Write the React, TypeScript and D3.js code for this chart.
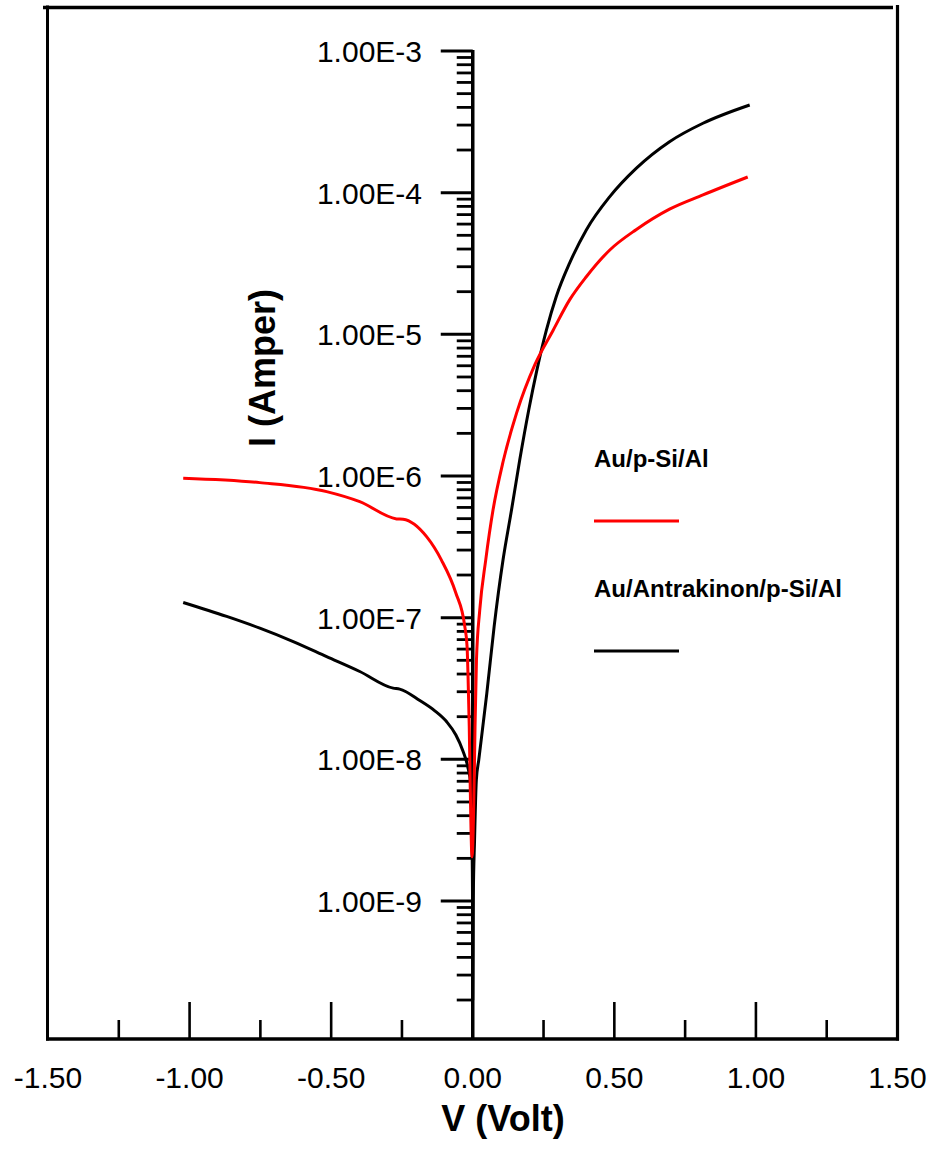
import React from "react";
import * as d3 from "d3";

// Au/p-Si/Al (red)
const redV = [-1.0225, -0.752, -0.516, -0.399, -0.269, -0.246, -0.163, -0.111, -0.060, -0.028, -0.020, -0.0166, -0.0124, -0.0095, -0.0025, 0.0053, 0.0081, 0.0131, 0.0247, 0.0459, 0.0717, 0.107, 0.155, 0.219, 0.284, 0.342, 0.401, 0.484, 0.578, 0.695, 0.813, 0.971];
const redI = [9.64e-7, 8.98e-7, 7.76e-7, 6.59e-7, 4.98e-7, 4.95e-7, 3.73e-7, 2.56e-7, 1.5e-7, 8.65e-8, 6.25e-8, 3.84e-8, 1.71e-8, 7.57e-9, 2.05e-9, 7.57e-9, 1.71e-8, 5.0e-8, 1.13e-7, 2.56e-7, 5.77e-7, 1.26e-6, 2.79e-6, 6.08e-6, 1.07e-5, 1.75e-5, 2.55e-5, 3.94e-5, 5.5e-5, 7.65e-5, 9.64e-5, 1.29e-4];

// Au/Antrakinon/p-Si/Al (black)
const blackV = [-1.0225, -0.869, -0.752, -0.634, -0.516, -0.399, -0.281, -0.258, -0.187, -0.134, -0.092, -0.060, -0.035, -0.0176, -0.0071, -0.0028, -0.0007, 0.0, 0.0018, 0.0064, 0.0127, 0.0212, 0.0498, 0.0755, 0.107, 0.137, 0.166, 0.1977, 0.2259, 0.26, 0.295, 0.342, 0.401, 0.484, 0.578, 0.695, 0.813, 0.978];
const blackI = [1.28e-7, 1.02e-7, 8.43e-8, 6.78e-8, 5.31e-8, 4.17e-8, 3.18e-8, 3.13e-8, 2.6e-8, 2.2e-8, 1.84e-8, 1.49e-8, 1.15e-8, 8.85e-9, 6.6e-9, 2.7e-9, 1.0e-9, 2.0e-10, 1.0e-9, 2.7e-9, 7.16e-9, 9.9e-9, 2.94e-8, 8.65e-8, 2.56e-7, 5.77e-7, 1.3e-6, 2.92e-6, 5.52e-6, 1.07e-5, 1.85e-5, 3.18e-5, 5.46e-5, 9.38e-5, 1.49e-4, 2.29e-4, 3.09e-4, 4.16e-4];

const xTicksMajor = [-1.5, -1.0, -0.5, 0.0, 0.5, 1.0, 1.5];
const xTickLabels = ["-1.50", "-1.00", "-0.50", "0.00", "0.50", "1.00", "1.50"];
const xTicksMinor = [-1.25, -0.75, -0.25, 0.25, 0.75, 1.25];
const yDecades = [-3, -4, -5, -6, -7, -8, -9];
const yTickLabels = ["1.00E-3", "1.00E-4", "1.00E-5", "1.00E-6", "1.00E-7", "1.00E-8", "1.00E-9"];

const seriesNames = ["Au/p-Si/Al", "Au/Antrakinon/p-Si/Al"];
const seriesColors = ["#ff0000", "#000000"];

const FONT = "'Liberation Sans', Arial, sans-serif";

export default function App() {
  const W = 937, H = 1149;
  const left = 47.5, right = 897.5, top = 7.5, bottom = 1039;
  const x = d3.scaleLinear().domain([-1.5, 1.5]).range([left + 0.5, right]);
  const y = d3.scaleLog().domain([1e-9, 1e-3]).range([901, 51]);
  const x0 = x(0);
  const yLow = 1.06e-10;
  const yHigh = 1e-3;

  const minorY: number[] = [];
  for (let k = -10; k <= -4; k++) {
    for (let m = 2; m <= 9; m++) {
      const v = m * Math.pow(10, k);
      if (v >= yLow && v < yHigh) minorY.push(v);
    }
  }

  const line = d3
    .line<[number, number]>()
    .x((d) => x(d[0]))
    .y((d) => y(d[1]))
    .curve(d3.curveMonotoneX);

  const redData = redV.map((v, i) => [v, redI[i]] as [number, number]);
  const blackData = blackV.map((v, i) => [v, blackI[i]] as [number, number]);

  return (
    <svg width={W} height={H} style={{ position: "absolute", left: 0, top: 0, background: "#fff" }}>
      <rect x={0} y={0} width={W} height={H} fill="#fff" />
      {/* frame */}
      <line x1={43} y1={top} x2={893} y2={top} stroke="#000" strokeWidth={3.5} />
      <line x1={left} y1={top - 2} x2={left} y2={bottom + 1.5} stroke="#000" strokeWidth={3} />
      <line x1={right} y1={5} x2={right} y2={bottom + 1.5} stroke="#000" strokeWidth={3.2} />
      <line x1={left - 1.5} y1={bottom} x2={right + 1.5} y2={bottom} stroke="#000" strokeWidth={3.3} />

      {/* x ticks */}
      {xTicksMajor.filter((v) => Math.abs(v) > 0.01 && Math.abs(v) < 1.4).map((v) => (
        <line key={"xm" + v} x1={x(v)} x2={x(v)} y1={bottom} y2={bottom - 37} stroke="#000" strokeWidth={2.6} />
      ))}
      {xTicksMinor.map((v) => (
        <line key={"xn" + v} x1={x(v)} x2={x(v)} y1={bottom} y2={bottom - 19} stroke="#000" strokeWidth={2.6} />
      ))}
      {xTicksMajor.map((v, i) => (
        <text key={"xl" + v} x={x(v)} y={1088} textAnchor="middle" fontFamily={FONT} fontSize={30} fill="#000">
          {xTickLabels[i]}
        </text>
      ))}

      {/* y axis */}
      <line x1={x0} x2={x0} y1={50} y2={bottom} stroke="#000" strokeWidth={3.5} />
      {yDecades.map((k, i) => {
        const yy = y(Math.pow(10, k));
        return (
          <g key={"yd" + k}>
            <line x1={x0} x2={x0 - 32} y1={yy} y2={yy} stroke="#000" strokeWidth={3} />
            <text x={422} y={yy + 11} textAnchor="end" fontFamily={FONT} fontSize={30} fill="#000">
              {yTickLabels[i]}
            </text>
          </g>
        );
      })}
      {minorY.map((v) => (
        <line key={"ym" + v} x1={x0} x2={x0 - 16} y1={y(v)} y2={y(v)} stroke="#000" strokeWidth={2.8} />
      ))}

      {/* curves */}
      <path d={line(blackData) || ""} fill="none" stroke={seriesColors[1]} strokeWidth={3} strokeLinejoin="round" />
      <path d={line(redData) || ""} fill="none" stroke={seriesColors[0]} strokeWidth={3} strokeLinejoin="round" />

      {/* titles */}
      <text x={503} y={1131} textAnchor="middle" fontFamily={FONT} fontWeight="bold" fontSize={36} fill="#000">
        V (Volt)
      </text>
      <text
        transform="translate(275,368) rotate(-90)"
        textAnchor="middle"
        fontFamily={FONT}
        fontWeight="bold"
        fontSize={36}
        fill="#000"
      >
        I (Amper)
      </text>

      {/* legend */}
      <text x={594} y={467} fontFamily={FONT} fontWeight="bold" fontSize={24} fill="#000">
        {seriesNames[0]}
      </text>
      <line x1={594} x2={679} y1={521} y2={521} stroke={seriesColors[0]} strokeWidth={3} />
      <text x={594} y={597} fontFamily={FONT} fontWeight="bold" fontSize={24} fill="#000">
        {seriesNames[1]}
      </text>
      <line x1={594} x2={679} y1={651} y2={651} stroke={seriesColors[1]} strokeWidth={3} />
    </svg>
  );
}
